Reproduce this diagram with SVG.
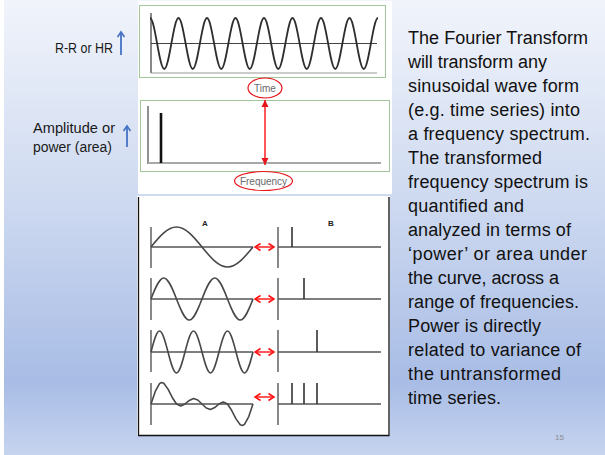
<svg xmlns="http://www.w3.org/2000/svg" width="605" height="455" viewBox="0 0 605 455">
<defs>
<linearGradient id="slideBg" x1="0" y1="0" x2="0" y2="1">
<stop offset="0" stop-color="#f1f4fb"/>
<stop offset="0.45" stop-color="#cdd9f0"/>
<stop offset="0.84" stop-color="#a8bce5"/>
<stop offset="1" stop-color="#c6d4ef"/>
</linearGradient>
<marker id="redTri" markerUnits="userSpaceOnUse" markerWidth="8" markerHeight="8" refX="7" refY="3.5" orient="auto-start-reverse" overflow="visible">
<path d="M0,0 L7,3.5 L0,7 z" fill="#e8141b"/>
</marker>
<marker id="redChev" markerUnits="userSpaceOnUse" markerWidth="8" markerHeight="8" refX="5.5" refY="3.5" orient="auto-start-reverse" overflow="visible">
<path d="M0,0 L5.5,3.5 L0,7" fill="none" stroke="#ff1010" stroke-width="1.5"/>
</marker>
<marker id="blueHead" markerUnits="userSpaceOnUse" markerWidth="8" markerHeight="8" refX="5" refY="3.5" orient="auto" overflow="visible">
<path d="M0,0 L5,3.5 L0,7" fill="none" stroke="#4472c4" stroke-width="1.6"/>
</marker>
</defs>
<style>
.body{font-family:"Liberation Sans",Arial,sans-serif;font-size:18px;fill:#111111}
.lbl{font-family:"Liberation Sans",Arial,sans-serif;font-size:14px;fill:#1a1a1a}
.small{font-family:"Liberation Sans",Arial,sans-serif;font-size:10px;fill:#6a6a6a}
.ab{font-family:"Liberation Sans",Arial,sans-serif;font-size:8px;font-weight:bold;fill:#222}
.frame{fill:none;stroke:#a3c79a;stroke-width:1}
.wave{fill:none;stroke:#484848;stroke-width:1.6;stroke-linejoin:round}
.twave{fill:none;stroke:#2e2e2e;stroke-width:1.8;stroke-linejoin:round}
.axis{fill:none;stroke:#3a3a3a;stroke-width:1.2}
.base{fill:none;stroke:#555;stroke-width:1.3}
.spike{stroke:#333;stroke-width:1.6}
.oval{fill:none;stroke:#e8141b;stroke-width:1.2}
.redline{stroke:#ff1010;stroke-width:1.4;fill:none}
.blue{stroke:#4472c4;stroke-width:1.8;fill:none}
</style>

<g id="background">
<rect x="0" y="0" width="605" height="455" fill="#ffffff"/>
<rect x="4" y="0" width="601" height="455" fill="url(#slideBg)"/>
<text x="555" y="440" font-family="Liberation Sans, Arial, sans-serif" font-size="8" fill="#8c8c8c">15</text>
</g>

<g id="label-rr">
<text class="lbl" x="55" y="53" textLength="58" lengthAdjust="spacingAndGlyphs">R-R or HR</text>
</g>
<g id="label-amp">
<text class="lbl" x="33" y="133" textLength="82" lengthAdjust="spacingAndGlyphs">Amplitude or</text>
<text class="lbl" x="33" y="152" textLength="79" lengthAdjust="spacingAndGlyphs">power (area)</text>
</g>

<g id="text-desc">
<text class="body" x="408" y="43.5" textLength="180">The Fourier Transform</text>
<text class="body" x="408" y="67.5" textLength="139">will transform any</text>
<text class="body" x="408" y="91.5" textLength="171">sinusoidal wave form</text>
<text class="body" x="408" y="115.5" textLength="172">(e.g. time series) into</text>
<text class="body" x="408" y="139.5" textLength="182">a frequency spectrum.</text>
<text class="body" x="408" y="163.5" textLength="134">The transformed</text>
<text class="body" x="408" y="187.5" textLength="180">frequency spectrum is</text>
<text class="body" x="408" y="211.5" textLength="116">quantified and</text>
<text class="body" x="408" y="235.5" textLength="163">analyzed in terms of</text>
<text class="body" x="408" y="259.5" textLength="179">‘power’ or area under</text>
<text class="body" x="408" y="283.5" textLength="151">the curve, across a</text>
<text class="body" x="408" y="307.5" textLength="171">range of frequencies.</text>
<text class="body" x="408" y="331.5" textLength="133">Power is directly</text>
<text class="body" x="408" y="355.5" textLength="173">related to variance of</text>
<text class="body" x="408" y="379.5" textLength="153">the untransformed</text>
<text class="body" x="408" y="403.5" textLength="93">time series.</text>
</g>

<g id="graph-time">
<rect x="138" y="1" width="254" height="193" fill="#ffffff"/>
<rect class="frame" x="139.5" y="5.5" width="246" height="72"/>
<line class="axis" x1="151" y1="13" x2="151" y2="73"/>
<line x1="151" y1="73" x2="377" y2="73" stroke="#9a9a9a" stroke-width="1.2"/>
<line x1="151" y1="43.5" x2="377" y2="43.5" stroke="#444" stroke-width="1.1"/>
<path class="twave" d="M150,18 c2.5,0 4.8,12.44 7.125,25.5 s4.62,25.5 7.125,25.5 s4.8,-12.44 7.125,-25.5 s4.62,-25.5 7.125,-25.5
s4.8,12.44 7.125,25.5 s4.62,25.5 7.125,25.5 s4.8,-12.44 7.125,-25.5 s4.62,-25.5 7.125,-25.5
s4.8,12.44 7.125,25.5 s4.62,25.5 7.125,25.5 s4.8,-12.44 7.125,-25.5 s4.62,-25.5 7.125,-25.5
s4.8,12.44 7.125,25.5 s4.62,25.5 7.125,25.5 s4.8,-12.44 7.125,-25.5 s4.62,-25.5 7.125,-25.5
s4.8,12.44 7.125,25.5 s4.62,25.5 7.125,25.5 s4.8,-12.44 7.125,-25.5 s4.62,-25.5 7.125,-25.5
s4.8,12.44 7.125,25.5 s4.62,25.5 7.125,25.5 s4.8,-12.44 7.125,-25.5 s4.62,-25.5 7.125,-25.5
s4.8,12.44 7.125,25.5 s4.62,25.5 7.125,25.5 s4.8,-12.44 7.125,-25.5 s4.62,-25.5 7.125,-25.5
s4.8,12.44 7.125,25.5 s4.62,25.5 7.125,25.5 s4.8,-12.44 7.125,-25.5 s4.62,-25.5 7.125,-25.5"/>
</g>

<g id="ellipse-time">
<ellipse class="oval" cx="265" cy="88" rx="17" ry="10"/>
<text class="small" x="265" y="91.5" text-anchor="middle">Time</text>
</g>

<g id="graph-freq">
<rect class="frame" x="140.5" y="100.5" width="249" height="71"/>
<line x1="148" y1="106" x2="148" y2="164" stroke="#222" stroke-width="1"/>
<line x1="148" y1="163" x2="381" y2="163" stroke="#a8a8a8" stroke-width="2"/>
<line x1="161" y1="113" x2="161" y2="163" stroke="#111" stroke-width="2.6"/>
</g>

<g id="ellipse-freq">
<ellipse class="oval" cx="263.5" cy="181" rx="29" ry="9.5"/>
<text class="small" x="263.5" y="184.5" text-anchor="middle">Frequency</text>
</g>

<g id="panel-ab">
<rect x="137" y="196" width="253" height="240" fill="#ffffff"/>
<path d="M138.5,197 V435.5 H389 V197" fill="none" stroke="#111" stroke-width="1.3"/>
<text class="ab" x="205" y="226" text-anchor="middle">A</text>
<text class="ab" x="331" y="226" text-anchor="middle">B</text>
<line class="axis" x1="151" y1="227" x2="151" y2="268"/>
<line class="base" x1="151" y1="247" x2="253" y2="247"/>
<path class="wave" d="M151,247 c8.32,-10.25 16.54,-20 25.5,-20 s17.18,9.75 25.5,20 s16.54,20 25.5,20 s17.18,-9.75 25.5,-20"/>
<line class="axis" x1="278" y1="227" x2="278" y2="268"/>
<line class="base" x1="278" y1="247" x2="381" y2="247"/>
<line class="spike" x1="292" y1="227" x2="292" y2="247"/>
<line class="axis" x1="151" y1="278" x2="151" y2="320"/>
<line class="base" x1="151" y1="299" x2="253" y2="299"/>
<path class="wave" d="M151,299 c4.16,-10.76 8.27,-21 12.75,-21 s8.59,10.24 12.75,21 s8.27,21 12.75,21 s8.59,-10.24 12.75,-21 s8.27,-21 12.75,-21 s8.59,10.24 12.75,21 s8.27,21 12.75,21 s8.59,-10.24 12.75,-21"/>
<line class="axis" x1="278" y1="278" x2="278" y2="320"/>
<line class="base" x1="278" y1="299" x2="381" y2="299"/>
<line class="spike" x1="304" y1="278" x2="304" y2="299"/>
<line class="axis" x1="151" y1="330" x2="151" y2="372"/>
<line class="base" x1="151" y1="352" x2="253" y2="352"/>
<path class="wave" d="M151,352 c2.77,-10.76 5.51,-21 8.5,-21 s5.73,10.24 8.5,21 s5.51,21 8.5,21 s5.73,-10.24 8.5,-21 s5.51,-21 8.5,-21 s5.73,10.24 8.5,21 s5.51,21 8.5,21 s5.73,-10.24 8.5,-21 s5.51,-21 8.5,-21 s5.73,10.24 8.5,21 s5.51,21 8.5,21 s5.73,-10.24 8.5,-21"/>
<line class="axis" x1="278" y1="330" x2="278" y2="372"/>
<line class="base" x1="278" y1="352" x2="381" y2="352"/>
<line class="spike" x1="317" y1="330" x2="317" y2="352"/>
<line class="axis" x1="151" y1="383" x2="151" y2="425"/>
<line class="base" x1="151" y1="404" x2="253" y2="404"/>
<polyline class="wave" points="151,404 155.25,391.39 159.5,383.65 161.6,382.5 163.75,383.24 168,389.1 172.25,397.47 176.5,404 180.75,406.07 185,404 189.25,400.44 193.5,398.55 197.75,399.99 202,404 206.25,408.01 210.5,409.45 214.75,407.56 219,404 223.25,401.93 227.5,404 231.75,410.53 236,418.9 240.25,424.76 242.4,425.5 244.5,424.35 248.75,416.61 253,404"/>
<line class="axis" x1="278" y1="383" x2="278" y2="425"/>
<line class="base" x1="278" y1="404" x2="381" y2="404"/>
<line class="spike" x1="292" y1="383" x2="292" y2="404"/>
<line class="spike" x1="304" y1="383" x2="304" y2="404"/>
<line class="spike" x1="317" y1="383" x2="317" y2="404"/>
</g>

<g id="connectors">
<line class="redline" x1="265" y1="100" x2="265" y2="165" marker-start="url(#redTri)" marker-end="url(#redTri)"/>
<line class="redline" x1="255" y1="247" x2="274" y2="247" marker-start="url(#redChev)" marker-end="url(#redChev)"/>
<line class="redline" x1="255" y1="299" x2="274" y2="299" marker-start="url(#redChev)" marker-end="url(#redChev)"/>
<line class="redline" x1="255" y1="352" x2="274" y2="352" marker-start="url(#redChev)" marker-end="url(#redChev)"/>
<line class="redline" x1="255" y1="397" x2="274" y2="397" marker-start="url(#redChev)" marker-end="url(#redChev)"/>
<line class="blue" x1="121" y1="55" x2="121" y2="32" marker-end="url(#blueHead)"/>
<line class="blue" x1="127" y1="147" x2="127" y2="126" marker-end="url(#blueHead)"/>
</g>
</svg>
